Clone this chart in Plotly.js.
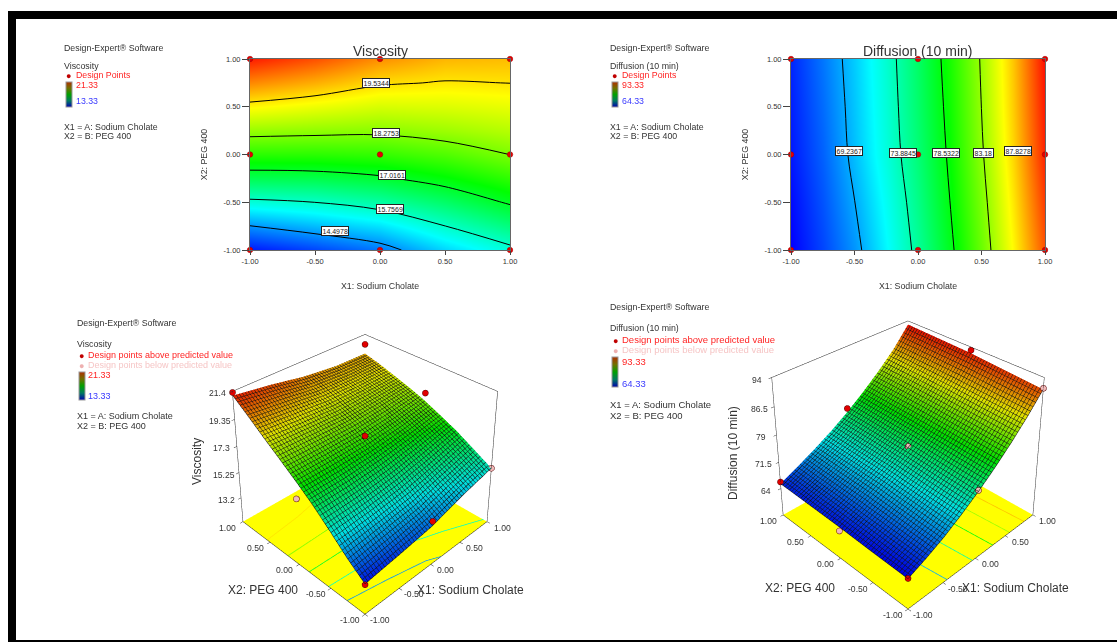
<!DOCTYPE html>
<html><head><meta charset="utf-8">
<script src="https://cdn.plot.ly/plotly-3.0.1.min.js"></script>
<style>html,body{margin:0;padding:0;background:#fff}#c{width:1117px;height:642px}</style>
</head><body><div id="c"></div>
<script>
const W=1117,H=642,FONT='"Liberation Sans",Arial,sans-serif';
// ---- data ----
const visX=[-1,-0.5,0,0.5,1];
const visY=[-1,-0.75,-0.5,-0.25,0,0.25,0.5,0.75,1];
const visZ=[
 [13.5,13.85,14.25,15.0,15.6],
 [14.48,14.8,15.12,15.75,16.35],
 [15.62,15.76,16.05,16.52,17.09],
 [16.7,16.75,16.93,17.28,17.7],
 [17.62,17.63,17.7,17.93,18.28],
 [18.5,18.44,18.4,18.55,18.75],
 [19.36,19.18,19.0,19.05,19.15],
 [20.25,19.95,19.6,19.5,19.54],
 [21.1,20.7,20.2,19.9,19.85]];
const visLevels=[14.4978,15.7569,17.0161,18.2753,19.5344];
const visLabelX=[-0.35,0.077,0.095,0.048,-0.027];
const visLabelY=[-0.80,-0.574,-0.215,0.225,0.752];
const difX=[-1,-0.75,-0.5,-0.25,0,0.25,0.5,0.75,1];
const difY=[-1,-0.5,0,0.5,1];
const difZ=[
 [64.3,66.3,68.6,71.4,74.5,78.0,81.9,86.2,91.0],
 [64.6,66.7,69.2,71.9,75.0,78.5,82.4,86.7,91.7],
 [65.0,67.1,69.8,72.5,75.5,78.9,82.9,87.2,92.4],
 [65.2,67.4,70.0,72.7,75.8,79.2,83.2,87.5,92.7],
 [65.4,67.7,70.2,72.9,76.0,79.5,83.4,87.7,93.0]];
const difLevels=[69.2367,73.8845,78.5322,83.18,87.8278];
const difLabelX=[-0.547,-0.122,0.218,0.519,0.786];
const difLabelY=[0.04,0.012,0.012,0.012,0.04];
const designX=[-1,0,1,-1,0,1,-1,0,1];
const designY=[-1,-1,-1,0,0,0,1,1,1];
const visAboveX=[-1,0,0,1,-1,1], visAboveY=[-1,-1,0,0,1,1], visAboveZ=[13.45,14.6,18.1,18.9,21.33,20.6];
const visBelowX=[1,-1], visBelowY=[-1,0], visBelowZ=[15.6,16.3];
const difAboveX=[-1,-1,0,1], difAboveY=[-1,1,1,0], difAboveZ=[64.4,65.9,77.0,93.2];
const difBelowX=[-1,0,0,1], difBelowY=[0,-1,0,-1], difBelowZ=[63.9,74.8,75.9,91.3];
const tickVals=[-1,-0.5,0,0.5,1];
const tickText=['-1.00','-0.50','0.00','0.50','1.00'];
const visZTicks=[13.2,15.25,17.3,19.35,21.4], visZText=['13.2','15.25','17.3','19.35','21.4'];
const difZTicks=[64,71.5,79,86.5,94], difZText=['64','71.5','79','86.5','94'];
const visFloorTop=[11.2,21.4], difFloorTop=[56.2,94];
// ---- styles ----
const rainbow=[[0,'#0000ff'],[0.25,'#00ffff'],[0.5,'#00ff00'],[0.75,'#ffff00'],[1,'#ff0000']];
const swatch=[[0,'#0000b0'],[0.25,'#007a60'],[0.5,'#00a000'],[0.75,'#707000'],[1,'#b03000']];
const px=x=>x/W, py=y=>1-y/H;
function contour(x,y,z,levels,lo,hi,xa,ya){
  return {type:'contour',x,y,z,xaxis:xa,yaxis:ya,zmin:lo,zmax:hi,zsmooth:'best',colorscale:rainbow,showscale:false,
    autocontour:false,contours:{coloring:'heatmap',start:levels[0],end:levels[levels.length-1],size:levels[1]-levels[0],showlabels:false},
    line:{color:'#000',width:1,smoothing:1},hoverinfo:'skip'};
}
function points(xa,ya){
  return {type:'scatter',mode:'markers',x:designX,y:designY,xaxis:xa,yaxis:ya,cliponaxis:false,
    marker:{color:'#e60000',size:5.5,line:{color:'#900',width:0.5}},hoverinfo:'skip'};
}
function bar(lo,hi,xa,ya,cx,cy,len){
  return {type:'scatter',mode:'markers',x:[null,null],y:[null,null],xaxis:xa,yaxis:ya,hoverinfo:'skip',
    marker:{color:[lo,hi],cmin:lo,cmax:hi,colorscale:swatch,size:1,showscale:true,
      colorbar:{x:px(cx),xanchor:'left',y:py(cy),yanchor:'top',thicknessmode:'pixels',thickness:6,lenmode:'pixels',len,
        outlinecolor:'#999',outlinewidth:1,showticklabels:false,ticks:'',xpad:0,ypad:0,borderwidth:0}}};
}
function surface(x,y,z,lo,hi,sc){
  const g={show:true,start:-1,end:1,size:0.04,color:'#111',width:1};
  return {type:'surface',x,y,z,scene:sc,cmin:lo,cmax:hi,colorscale:rainbow,showscale:false,hoverinfo:'skip',
    lighting:{ambient:0.88,diffuse:0,specular:0,roughness:1,fresnel:0},
    contours:{x:g,y:g}};
}
// iso-lines of the tables on the floor of the 3D box
function crossing(a,b,va,vb,l){return a+(b-a)*(l-va)/(vb-va);}
function floorLine(ux,uy,get,nU,nV,level,swap,floor,lo,hi,sc){
  const us=[],vs=[];
  for(let i=0;i<nU;i++){
    let found=false;
    for(let j=0;j<nV-1;j++){
      const a=get(i,j),b=get(i,j+1);
      if((a-level)*(b-level)<=0){us.push(ux[i]);vs.push(crossing(uy[j],uy[j+1],a,b,level));found=true;break;}
    }
    if(!found&&i>0&&us.length&&us[us.length-1]===ux[i-1]){
      us.push(crossing(ux[i-1],ux[i],get(i-1,0),get(i,0),level));vs.push(uy[0]);break;
    }
  }
  return {type:'scatter3d',mode:'lines',x:swap?vs:us,y:swap?us:vs,z:us.map(()=>floor),scene:sc,hoverinfo:'skip',
    line:{width:1.5,color:us.map(()=>level),colorscale:rainbow,cmin:lo,cmax:hi}};
}
function pts3(x,y,z,col,sc){
  return {type:'scatter3d',mode:'markers',x,y,z,scene:sc,hoverinfo:'skip',
    marker:{size:3.5,color:col,line:{color:'#500',width:1}}};
}
function axis3(vals,range){
  return {range,tickvals:vals,title:{text:''},showticklabels:false,showgrid:false,zeroline:false,showline:true,mirror:true,
    linecolor:'#222',linewidth:1,showbackground:false,showspikes:false,ticks:'outside',ticklen:3,tickcolor:'#333'};
}
function sceneAnn(zv,zt,zr){
  const f={family:FONT,size:8.6,color:'#333'},a=[],base=zr[0];
  tickVals.forEach((v,i)=>{
    a.push({x:-1,y:v,z:base,text:tickText[i],showarrow:false,font:f,xshift:-15,yshift:-6});
    a.push({x:v,y:-1,z:base,text:tickText[i],showarrow:false,font:f,xshift:15,yshift:-6});
  });
  zv.forEach((v,i)=>a.push({x:-1,y:1,z:v,text:zt[i],showarrow:false,font:f,xshift:-15,yshift:-2}));
  return a;
}
function scene(domX,domY,zv,zt,zr,cam,zasp){
  const z=axis3(zv,zr); z.showbackground=true; z.backgroundcolor='#ffff00';
  return {domain:{x:[px(domX[0]),px(domX[1])],y:[py(domY[1]),py(domY[0])]},
    xaxis:axis3(tickVals,[-1,1]),yaxis:axis3(tickVals,[-1,1]),zaxis:z,annotations:sceneAnn(zv,zt,zr),
    aspectmode:'manual',aspectratio:{x:1,y:1,z:zasp},camera:cam};
}
function cart(xd,yd,xa,ya){
  const common={range:[-1,1],tickvals:tickVals,ticktext:tickText,tickfont:{family:FONT,size:7.5,color:'#333'},ticks:'outside',tickcolor:'#444',
    showgrid:false,zeroline:false,showline:true,mirror:true,linecolor:'#666',linewidth:1};
  return [
   Object.assign({},common,{ticklen:4,domain:[px(xd[0]),px(xd[1])],anchor:ya,title:{text:'X1: Sodium Cholate',font:{family:FONT,size:8.8,color:'#333'},standoff:17}}),
   Object.assign({},common,{ticklen:7,domain:[py(yd[1]),py(yd[0])],anchor:xa,title:{text:'X2: PEG 400',font:{family:FONT,size:8.8,color:'#333'},standoff:14}})
  ];
}
const ann=[];
function T(x,y,text,size,color,extra){
  ann.push(Object.assign({xref:'paper',yref:'paper',x:px(x),y:py(y),xanchor:'left',yanchor:'middle',text,showarrow:false,
    font:{family:FONT,size,color},borderpad:0},extra||{}));
}
function levelLabels(levels,lx,ly,xa,ya){
  levels.forEach((v,i)=>ann.push({xref:xa,yref:ya,x:lx[i],y:ly[i],text:String(v),showarrow:false,
    font:{family:FONT,size:7,color:'#222'},bgcolor:'#fff',bordercolor:'#222',borderwidth:1,borderpad:0.5}));
}
levelLabels(visLevels,visLabelX,visLabelY,'x','y');
levelLabels(difLevels,difLabelX,difLabelY,'x2','y2');
const DK='#333',RED='#ff2424',BLU='#3a3aff',PINK='#f6c6c6';
const DOT={xanchor:'center'};
T(63,48,'Design-Expert® Software',8.8,DK);T(63,66,'Viscosity',8.8,DK);T(75,75,'Design Points',8.8,RED);T(68,76,'●',9,'#c00000',DOT);
T(75,85,'21.33',8.8,RED);T(75,101,'13.33',8.8,BLU);T(63,127,'X1 = A: Sodium Cholate',8.8,DK);T(63,136,'X2 = B: PEG 400',8.8,DK);
T(380,51,'Viscosity',14,'#333',{xanchor:'center'});
T(609,48,'Design-Expert® Software',8.8,DK);T(609,66,'Diffusion (10 min)',8.8,DK);T(621,75,'Design Points',8.8,RED);T(614,76,'●',9,'#c00000',DOT);
T(621,85,'93.33',8.8,RED);T(621,101,'64.33',8.8,BLU);T(609,127,'X1 = A: Sodium Cholate',8.8,DK);T(609,136,'X2 = B: PEG 400',8.8,DK);
T(917,51,'Diffusion (10 min)',14,'#333',{xanchor:'center'});
T(76,323,'Design-Expert® Software',8.8,DK);T(76,344,'Viscosity',8.8,DK);T(87,355,'Design points above predicted value',9,RED);T(81,356,'●',9,'#c00000',DOT);
T(87,365,'Design points below predicted value',9,PINK);T(81,366,'●',9,'#eeb0b0',DOT);
T(87,375,'21.33',9,RED);T(87,396,'13.33',9,BLU);T(76,416,'X1 = A: Sodium Cholate',9,DK);T(76,426,'X2 = B: PEG 400',9,DK);
T(609,307,'Design-Expert® Software',8.8,DK);T(609,328,'Diffusion (10 min)',8.8,DK);T(621,340,'Design points above predicted value',9.5,RED);T(615,341,'●',9,'#c00000',DOT);
T(621,350,'Design points below predicted value',9.5,PINK);T(615,351,'●',9,'#eeb0b0',DOT);
T(621,361,'93.33',9.5,RED);T(621,383,'64.33',9.5,BLU);T(609,404,'X1 = A: Sodium Cholate',9.5,DK);T(609,415,'X2 = B: PEG 400',9.5,DK);
T(263,590,'X2: PEG 400',12,'#333',{xanchor:'center'});T(470,590,'X1: Sodium Cholate',12,'#333',{xanchor:'center'});
T(197,462,'Viscosity',12,'#333',{xanchor:'center',textangle:-90});
T(800,588,'X2: PEG 400',12,'#333',{xanchor:'center'});T(1015,588,'X1: Sodium Cholate',12,'#333',{xanchor:'center'});
T(733,453,'Diffusion (10 min)',12,'#333',{xanchor:'center',textangle:-90});

const [xa1,ya1]=cart([250,510],[59,250],'x','y');
const [xa2,ya2]=cart([791,1045],[59,250],'x2','y2');
const rect=(x0,y0,x1,y1)=>({type:'rect',xref:'paper',yref:'paper',x0:px(x0),x1:px(x1),y0:py(y0),y1:py(y1),fillcolor:'#000',line:{width:0},layer:'above'});
const cam1={eye:{x:-2.55,y:-2.55,z:2.485},center:{x:0,y:0,z:0.845},up:{x:0,y:0,z:1}};
const cam2={eye:{x:-2.5,y:-2.5,z:2.38},center:{x:0,y:0,z:0.765},up:{x:0,y:0,z:1}};
const data=[
 contour(visX,visY,visZ,visLevels,13.33,21.33,'x','y'),points('x','y'),bar(13.33,21.33,'x','y',66,82,25),
 contour(difX,difY,difZ,difLevels,64.33,93.33,'x2','y2'),points('x2','y2'),bar(64.33,93.33,'x2','y2',612,82,25),
 surface(visX,visY,visZ,13.33,21.33,'scene'),
 pts3(visAboveX,visAboveY,visAboveZ,'#e00000','scene'),pts3(visBelowX,visBelowY,visBelowZ,'#f0b8b8','scene'),
 surface(difX,difY,difZ,64.33,93.33,'scene2'),
 pts3(difAboveX,difAboveY,difAboveZ,'#e00000','scene2'),pts3(difBelowX,difBelowY,difBelowZ,'#f0b8b8','scene2'),
 bar(13.33,21.33,'x','y',79,372,28),bar(64.33,93.33,'x2','y2',612,357,30)
];
visLevels.forEach(l=>data.push(floorLine(visX,visY,(i,j)=>visZ[j][i],visX.length,visY.length,l,false,visFloorTop[0]+0.02,13.33,21.33,'scene')));
difLevels.forEach(l=>data.push(floorLine(difY,difX,(i,j)=>difZ[i][j],difY.length,difX.length,l,true,difFloorTop[0]+0.06,64.33,93.33,'scene2')));
const layout={width:W,height:H,margin:{l:0,r:0,t:0,b:0},paper_bgcolor:'#fff',plot_bgcolor:'#fff',showlegend:false,
 font:{family:FONT},annotations:ann,
 xaxis:xa1,yaxis:ya1,xaxis2:xa2,yaxis2:ya2,
 scene:scene([170,560],[0,642],visZTicks,visZText,visFloorTop,cam1,0.865),
 scene2:scene([716,1100],[0,642],difZTicks,difZText,difFloorTop,cam2,0.885),
 shapes:[rect(8,11,W,19),rect(8,11,16,H),rect(16,640,W,642)]};
Plotly.newPlot('c',data,layout,{displayModeBar:false});
</script></body></html>
